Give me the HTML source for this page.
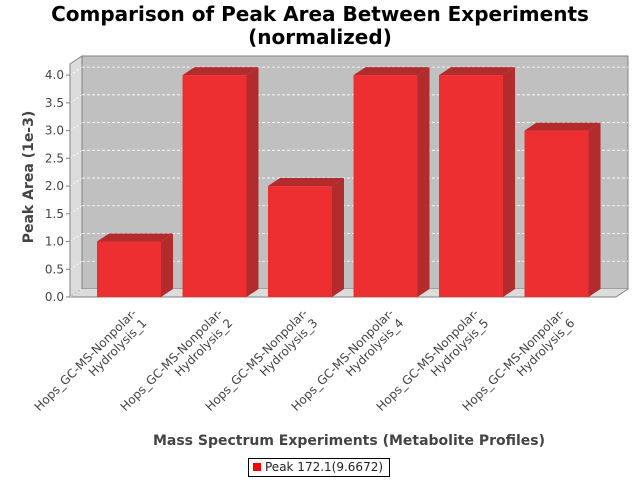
<!DOCTYPE html>
<html><head><meta charset="utf-8"><style>
body{margin:0;background:#fff;width:640px;height:480px;overflow:hidden;font-family:"DejaVu Sans","Liberation Sans",sans-serif}
.title{position:absolute;left:0;width:640px;text-align:center;font-weight:bold;font-size:20px;color:#000;line-height:23px;top:3px}
.xl{position:absolute;font-size:12px;color:#444;text-align:right;white-space:nowrap;line-height:14px;transform-origin:100% 0;transform:rotate(-45deg)}
</style></head><body>
<div class="title">Comparison of Peak Area Between Experiments<br>(normalized)</div>
<svg id="c" width="640" height="480" style="position:absolute;left:0;top:0"></svg>
<div id="labels"></div>
<div style="position:absolute;left:248px;top:458px;width:142px;height:19px;border:1px solid #000;box-sizing:border-box;font-size:12px;color:#222;line-height:17px">
<span style="display:inline-block;width:8px;height:8px;background:#f00;margin:0 4px 0 4px"></span>Peak 172.1(9.6672)</div>
<script>
const categories=["Hops_GC-MS-Nonpolar-\nHydrolysis_1","Hops_GC-MS-Nonpolar-\nHydrolysis_2","Hops_GC-MS-Nonpolar-\nHydrolysis_3","Hops_GC-MS-Nonpolar-\nHydrolysis_4","Hops_GC-MS-Nonpolar-\nHydrolysis_5","Hops_GC-MS-Nonpolar-\nHydrolysis_6"];
const values=[1.0,4.0,2.0,4.0,4.0,3.0];
const ticks=[0,0.5,1,1.5,2,2.5,3,3.5,4];
const NS="http://www.w3.org/2000/svg";
const svg=document.getElementById('c');
const X0=70,X1=616,Y0=297,YT=64,DX=12,DY=8,YMAX=4.2;
const y=v=>Y0-(v/YMAX)*(Y0-YT);
function add(tag,attrs,name,text){const e=document.createElementNS(NS,tag);for(const k in attrs)e.setAttribute(k,attrs[k]);


if(text!==undefined)e.textContent=text;svg.appendChild(e);return e;}
add('rect',{x:X0+DX,y:YT-DY,width:X1-X0,height:Y0-YT,fill:'#c0c0c0',stroke:'#808080'},'plot-back-wall');
add('polygon',{points:`${X0},${YT} ${X0+DX},${YT-DY} ${X0+DX},${Y0-DY} ${X0},${Y0}`,fill:'#dcdcdc',stroke:'#808080'},'plot-left-wall');
add('polygon',{points:`${X0},${Y0} ${X0+DX},${Y0-DY} ${X1+DX},${Y0-DY} ${X1},${Y0}`,fill:'#dcdcdc'},'plot-floor');
add('line',{x1:X0,y1:Y0,x2:X1,y2:Y0,stroke:'#808080'},'x-axis-line');
add('line',{x1:X1,y1:Y0,x2:X1+DX,y2:Y0-DY,stroke:'#808080'},'floor-edge');
ticks.forEach(t=>{const yy=y(t);
 if(t>0)add('line',{x1:X0+DX,y1:yy-DY,x2:X1+DX,y2:yy-DY,stroke:'#fff','stroke-dasharray':'3,2','stroke-width':0.8},'gridline');
 add('line',{x1:X0,y1:yy,x2:X0+DX,y2:yy-DY,stroke:'#fff','stroke-dasharray':'2,2','stroke-width':0.8},'gridline-wall');
 add('line',{x1:X0-4,y1:yy,x2:X0,y2:yy,stroke:'#808080'},'y-tick');
 add('text',{x:X0-6,y:yy+4,'text-anchor':'end','font-size':12,fill:'#444','font-family':'DejaVu Sans,sans-serif'},'y-tick-label',t.toFixed(1));
});
add('line',{x1:X0,y1:YT,x2:X0,y2:Y0,stroke:'#808080'},'y-axis-line');
const step=85.5, first=X0+59, bw=64;
const lab=document.getElementById('labels');
categories.forEach((c,i)=>{const cx=first+step*i, bx=cx-bw/2, top=y(values[i]);
 add('polygon',{points:`${bx},${top} ${bx+DX},${top-DY} ${bx+bw+DX},${top-DY} ${bx+bw},${top}`,fill:'#b22c2e'},'bar-top');
 add('polygon',{points:`${bx+bw},${top} ${bx+bw+DX},${top-DY} ${bx+bw+DX},${Y0-DY} ${bx+bw},${Y0}`,fill:'#b22c2e'},'bar-side');
 add('rect',{x:bx,y:top,width:bw,height:Y0-top,fill:'#ee2f32'},'bar-'+(i+1));
 const d=document.createElement('div');d.className='xl';
 
 
 d.innerHTML=c.replace('\n','<br>');
 d.style.right=(640-(cx+1))+'px';d.style.top='306px';lab.appendChild(d);
});
add('text',{x:0,y:0,transform:'translate(33,177) rotate(-90)','text-anchor':'middle','font-size':14,'font-weight':'bold',fill:'#444','font-family':'DejaVu Sans,sans-serif'},'y-axis-title','Peak Area (1e-3)');
add('text',{x:349,y:445,'text-anchor':'middle','font-size':14,'font-weight':'bold',fill:'#444','font-family':'DejaVu Sans,sans-serif'},'x-axis-title','Mass Spectrum Experiments (Metabolite Profiles)');
</script>
</body></html>
